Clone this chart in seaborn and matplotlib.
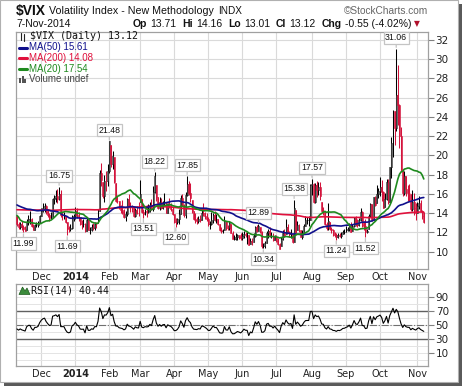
import numpy as np
import pandas as pd
import matplotlib
matplotlib.use("Agg")
import matplotlib.pyplot as plt
import seaborn as sns
from matplotlib.lines import Line2D
from matplotlib.patches import Rectangle, Polygon

# ---- data -------------------------------------------------------------
holidays = ["2013-02-18", "2013-03-29", "2013-05-27", "2013-07-04", "2013-09-02",
            "2013-11-28", "2013-12-25", "2014-01-01", "2014-01-20", "2014-02-17",
            "2014-04-18", "2014-05-26", "2014-07-04", "2014-09-01"]

# closes before the visible window (needed for MA(200), MA(50), MA(20), RSI)
history_close = [
    13.57, 12.95, 13.61, 14.28,
    12.90, 14.67, 13.72, 12.98, 13.41, 12.46, 12.94, 12.64, 12.98, 12.66, 12.46, 12.31, 14.68, 15.22, 14.17, 18.99, 16.87, 14.73, 15.51,
    13.07, 13.19, 13.48, 13.53, 13.06, 12.59, 11.56, 12.27, 11.30, 11.30, 11.30, 13.24, 14.39, 12.67, 13.99, 13.57, 13.74, 12.77, 13.15, 12.70,
    13.58, 12.78, 14.21, 13.89, 12.85, 13.19, 12.84, 12.36, 11.90, 12.06, 17.27, 13.96, 16.51, 17.56, 14.97, 14.39, 13.48, 13.61, 13.62, 13.61, 13.71, 13.52,
    14.49, 13.59, 12.85, 12.66, 12.73, 12.43, 12.59, 12.59, 12.55, 12.77, 12.31, 12.80, 12.45, 13.02, 13.37, 13.82, 14.07, 13.25, 14.48, 14.83, 14.53, 16.30,
    16.27, 16.74, 17.50, 16.14, 15.14, 15.44, 17.07, 18.59, 16.41, 17.15, 16.80, 16.61, 16.64, 20.49, 18.90, 20.11, 18.47, 17.21, 16.86, 16.86,
    16.60, 16.44, 16.20, 14.89, 14.78, 14.35, 14.21, 14.01, 13.84, 13.79, 14.42, 13.78, 13.77, 12.54, 12.29, 12.69, 13.72, 13.22, 12.72, 13.39, 13.39, 13.45,
    12.94, 11.98, 11.84, 12.72, 12.98, 12.73, 13.41, 13.28, 12.81, 12.31, 14.73, 14.37, 15.10, 14.99, 15.92, 14.76, 13.98, 14.99, 16.77, 16.81, 16.81, 17.01,
    16.61, 15.88, 15.58, 15.85, 15.63, 14.53, 13.82, 14.29, 14.16, 14.38, 14.53, 13.59, 13.16, 13.12, 13.26, 13.59, 14.08, 14.01, 15.46, 16.60,
    15.54, 16.60, 17.67, 16.74, 19.41, 20.34, 19.60, 16.48, 15.72, 16.07, 18.66, 14.71, 14.00, 13.04, 13.16, 13.33, 13.98, 13.20, 13.09, 13.31, 13.41, 13.33, 13.75,
    13.09, 12.53, 13.25, 12.67, 13.65,
]

# visible window: 8-Nov-2013 .. 7-Nov-2014
close = [
    12.90, 12.53, 12.82, 12.52, 12.37, 12.19, 13.10, 13.39, 13.40, 12.66, 12.26, 12.79, 12.81, 12.98, 13.70,
    14.23, 14.55, 14.70, 14.15, 13.79, 13.49, 13.52, 15.42, 15.54, 15.76, 15.50, 16.03, 13.80, 13.79, 13.79, 13.04, 12.48, 12.33, 12.46, 13.56, 13.72,
    14.23, 13.76, 13.55, 12.92, 12.87, 12.89, 12.14, 13.28, 12.28, 12.28, 12.53, 12.44, 12.87, 12.84, 13.77, 18.14, 17.42, 15.80, 17.35, 17.29, 18.41,
    21.44, 19.11, 19.95, 17.23, 15.29, 15.26, 14.51, 14.30, 14.14, 13.57, 13.87, 15.50, 14.79, 14.68, 14.23, 13.67, 14.35, 14.04, 14.00,
    16.00, 14.10, 13.89, 14.21, 14.11, 14.20, 14.80, 14.47, 16.22, 17.82, 15.64, 14.52, 15.12, 14.52, 15.00, 15.09, 14.02, 14.93, 14.62, 14.41, 13.88,
    13.10, 13.09, 13.37, 13.96, 15.57, 14.89, 13.82, 15.89, 17.03, 16.11, 15.61, 14.18, 13.36, 13.25, 13.19, 13.42, 13.32, 14.06, 13.97, 13.71, 13.41,
    12.91, 12.91, 13.29, 13.80, 13.40, 13.43, 12.92, 12.23, 12.13, 12.17, 13.17, 12.44, 12.42, 12.96, 11.91, 11.36, 11.36, 11.51, 11.68, 11.57, 11.40,
    11.58, 11.87, 11.68, 11.68, 10.73, 11.15, 10.99, 11.60, 12.56, 12.18, 12.65, 12.06, 10.61, 10.62, 10.85, 11.98, 12.13, 11.59, 11.63, 11.26, 11.57,
    11.15, 10.82, 10.32, 11.33, 11.98, 11.65, 12.59, 12.08, 11.82, 11.96, 11.00, 14.54, 12.06, 12.81, 12.24, 11.52, 11.84, 12.69, 13.28, 13.33, 13.33, 16.95,
    17.03, 15.12, 16.87, 16.37, 16.66, 15.77, 14.23, 14.13, 12.90, 12.42, 13.15, 12.32, 12.21, 11.78, 11.76, 11.47, 11.70, 11.63, 11.78, 12.05, 12.09,
    12.25, 12.36, 12.64, 12.09, 12.66, 13.50, 12.88, 12.80, 13.31, 14.12, 12.73, 12.65, 12.03, 12.11, 13.69, 14.93, 13.27, 15.64, 14.85, 15.98, 16.31,
    16.71, 16.16, 14.55, 15.46, 17.20, 15.11, 18.76, 21.24, 24.64, 22.79, 26.25, 25.20, 21.99, 18.57, 16.08, 17.87, 16.53, 16.11, 16.04, 14.39, 15.15, 14.52, 14.03,
    14.73, 15.10, 14.17, 13.67, 13.12,
]

high = [
    13.70, 13.05, 13.05, 13.20, 12.75, 12.70, 13.40, 13.80, 14.20, 13.45, 12.90, 12.90, 13.10, 13.20, 13.80,
    14.55, 15.05, 15.10, 14.80, 14.40, 14.00, 14.10, 15.60, 15.90, 16.35, 16.50, 16.75, 16.40, 14.25, 14.10, 13.70, 13.10, 12.70, 12.90, 13.80, 13.90,
    14.60, 14.50, 14.10, 13.60, 13.30, 13.40, 13.00, 13.55, 13.40, 12.60, 12.90, 12.95, 13.10, 13.10, 14.45, 18.45, 19.20, 17.20, 18.00, 18.40, 19.10,
    21.48, 21.10, 20.40, 19.80, 17.10, 15.80, 15.30, 14.80, 15.40, 14.40, 14.20, 15.60, 16.00, 15.20, 14.80, 14.60, 14.50, 14.70, 15.20,
    17.40, 15.50, 14.40, 14.40, 14.80, 14.90, 15.20, 15.50, 16.80, 18.22, 16.90, 15.70, 15.70, 15.60, 15.30, 16.10, 15.20, 15.10, 15.60, 15.00, 14.60,
    13.90, 13.50, 13.50, 14.40, 15.90, 16.00, 14.90, 16.20, 17.85, 17.30, 17.10, 15.40, 14.20, 14.00, 13.60, 13.70, 13.80, 14.50, 15.10, 14.10, 14.00,
    13.60, 13.20, 14.10, 14.00, 14.20, 13.90, 13.40, 12.90, 12.60, 12.40, 13.70, 13.20, 12.80, 13.20, 12.90, 12.10, 11.70, 11.90, 11.80, 11.70, 11.90,
    12.00, 12.10, 12.00, 12.00, 11.70, 11.40, 11.40, 11.90, 12.70, 12.80, 12.89, 12.60, 12.10, 10.90, 11.10, 12.10, 12.40, 12.60, 12.00, 11.90, 11.70,
    11.70, 11.40, 10.90, 11.50, 12.30, 12.40, 13.40, 12.90, 12.10, 12.40, 11.80, 15.38, 14.30, 13.20, 12.90, 12.30, 12.20, 12.90, 13.70, 13.60, 13.70, 17.00,
    17.57, 17.10, 17.10, 17.30, 17.20, 17.20, 15.20, 14.60, 14.10, 13.10, 15.00, 13.10, 12.60, 12.40, 12.00, 11.90, 11.90, 11.90, 12.00, 12.30, 12.40,
    12.70, 12.60, 13.00, 13.10, 12.90, 13.60, 13.70, 13.40, 13.50, 14.50, 14.20, 13.20, 13.40, 12.40, 13.90, 15.00, 14.90, 15.70, 15.80, 16.90, 16.60,
    17.70, 17.40, 16.30, 16.10, 17.50, 17.50, 18.80, 21.90, 24.70, 24.60, 31.06, 29.40, 25.30, 22.90, 18.60, 18.40, 17.90, 16.90, 17.00, 16.00, 16.40, 16.10, 15.00,
    15.20, 15.80, 15.40, 14.30, 14.16,
]

low = [
    12.70, 12.40, 12.40, 12.30, 11.99, 12.10, 12.30, 12.80, 12.90, 12.55, 12.20, 12.20, 12.55, 12.55, 13.00,
    13.70, 14.10, 14.10, 13.90, 13.60, 13.20, 13.40, 13.60, 14.90, 15.20, 15.10, 15.40, 13.60, 13.30, 13.40, 12.95, 11.69, 12.00, 12.10, 12.40, 13.20,
    13.40, 13.50, 13.20, 12.80, 12.40, 12.60, 12.00, 12.10, 12.20, 11.80, 12.10, 12.30, 12.30, 12.50, 13.00, 14.20, 16.80, 15.60, 15.20, 16.30, 16.80,
    18.20, 18.80, 18.60, 17.10, 15.20, 15.00, 14.40, 14.00, 13.90, 13.50, 13.20, 13.70, 14.60, 14.10, 14.10, 13.60, 13.60, 13.90, 13.70,
    15.20, 14.00, 13.51, 13.80, 13.60, 14.00, 14.10, 14.30, 14.20, 16.10, 15.30, 14.40, 14.30, 14.40, 14.40, 14.70, 14.00, 14.00, 14.50, 14.20, 13.80,
    13.00, 12.60, 12.90, 12.90, 13.90, 14.70, 13.60, 13.50, 15.80, 15.90, 15.20, 14.00, 13.30, 13.00, 12.90, 13.00, 13.10, 13.30, 13.70, 13.40, 13.20,
    12.70, 12.40, 12.80, 13.00, 13.20, 13.00, 12.80, 12.10, 11.90, 11.90, 12.20, 12.30, 12.20, 12.30, 11.90, 11.30, 11.20, 11.20, 11.20, 11.30, 11.20,
    11.20, 11.40, 11.50, 10.80, 10.70, 10.80, 10.70, 11.00, 11.50, 12.00, 12.10, 11.90, 10.40, 10.34, 10.40, 10.90, 11.40, 11.50, 11.40, 11.10, 11.20,
    11.00, 10.70, 10.28, 10.60, 11.20, 11.50, 11.80, 11.90, 11.50, 11.40, 10.90, 11.00, 11.90, 12.20, 12.00, 11.50, 11.30, 12.00, 12.70, 12.90, 12.70, 13.30,
    15.90, 15.00, 15.00, 15.70, 15.90, 15.40, 14.10, 13.80, 12.80, 12.30, 12.30, 12.20, 11.90, 11.60, 11.50, 11.24, 11.40, 11.50, 11.40, 11.80, 11.80,
    12.00, 12.10, 12.10, 12.00, 12.10, 12.60, 12.70, 12.60, 12.70, 13.20, 12.60, 12.30, 11.52, 11.90, 12.40, 13.60, 13.20, 13.30, 14.70, 15.00, 15.60,
    15.80, 15.30, 14.50, 14.60, 15.40, 14.90, 15.00, 17.60, 19.80, 21.10, 22.50, 23.10, 20.80, 18.40, 15.80, 15.90, 15.80, 15.30, 15.30, 14.20, 14.20, 13.80, 13.30,
    14.00, 14.40, 14.10, 13.40, 13.01,
]

month_starts = ["2013-12-01", "2014-01-01", "2014-02-01", "2014-03-01", "2014-04-01", "2014-05-01",
                "2014-06-01", "2014-07-01", "2014-08-01", "2014-09-01", "2014-10-01", "2014-11-01"]
month_labels = ["Dec", "2014", "Feb", "Mar", "Apr", "May", "Jun", "Jul", "Aug", "Sep", "Oct", "Nov"]

label_dates = ["2013-11-14", "2013-12-17", "2013-12-24", "2014-02-03", "2014-03-05", "2014-03-14",
               "2014-04-02", "2014-04-11", "2014-06-16", "2014-06-19", "2014-07-17", "2014-08-01",
               "2014-08-22", "2014-09-18", "2014-10-15"]
label_values = [11.99, 16.75, 11.69, 21.48, 13.51, 18.22, 12.60, 17.85, 12.89, 10.34, 15.38, 17.57,
                 11.24, 11.52, 31.06]
label_kinds = ["low", "high", "low", "high", "low", "high", "low", "high", "high", "low", "high", "high",
               "low", "low", "high"]

assert len(history_close) == 199
assert len(close) == len(high) == len(low) == 252

# ---- derived series ---------------------------------------------------
all_dates = pd.bdate_range("2013-01-28", "2014-11-07", freq="C", holidays=holidays)
s = pd.Series(history_close + close, index=all_dates)
ma50 = s.rolling(50).mean()
ma200 = s.rolling(200).mean()
ma20 = s.rolling(20).mean()
delta = s.diff()
gain = delta.clip(lower=0).ewm(alpha=1 / 14, adjust=False).mean()
loss = (-delta.clip(upper=0)).ewm(alpha=1 / 14, adjust=False).mean()
rsi = 100 - 100 / (1 + gain / loss)

n = len(close)
dates = all_dates[-n:]
xs = np.arange(n)
c = np.array(close)
hi = np.array(high)
lo = np.array(low)
prev = s.shift(1).values[-n:]
df = pd.DataFrame({"x": xs, "ma50": ma50.values[-n:], "ma200": ma200.values[-n:],
                   "ma20": ma20.values[-n:], "rsi": rsi.values[-n:]})

# ---- figure -----------------------------------------------------------
sns.set_theme(style="white")
plt.rcParams["font.family"] = ["DejaVu Sans"]
W, H = 464, 387
fig = plt.figure(figsize=(W / 100, H / 100), dpi=100)


def fx(px):
    return px / W


def fy(py):
    return 1 - py / H


# panel + drop shadow
fig.patches.append(Rectangle((fx(4), fy(386)), 458 / W, 382 / H, transform=fig.transFigure,
                             facecolor="#5a5a5a", edgecolor="none", zorder=-3))
fig.patches.append(Rectangle((fx(0), fy(382)), 458 / W, 382 / H, transform=fig.transFigure,
                             facecolor="white", edgecolor="#b0b0b0", lw=0.8, zorder=-2))

ax = fig.add_axes([fx(16), fy(269), 412 / W, 237 / H])
rx = fig.add_axes([fx(16), fy(366), 412 / W, 82 / H])

RED = "#d4143c"
NAVY = "#10108c"
MRED = "#e0103c"
GREEN = "#1e8a1e"
GRID = "#dadada"

# candlesticks (body from previous close to close)
down = c < prev
cols = np.where(down, RED, "black")
ax.vlines(xs, lo, hi, colors=cols, lw=0.75, zorder=3)
body_lo = np.clip(np.minimum(prev, c), lo, hi)
body_hi = np.clip(np.maximum(prev, c), lo, hi)
ax.bar(xs, body_hi - body_lo, bottom=body_lo, width=0.6,
       color=np.where(down, RED, "white"), edgecolor=cols, linewidth=0.4, zorder=3)

sns.lineplot(data=df, x="x", y="ma200", ax=ax, color=MRED, lw=1.2, zorder=4)
sns.lineplot(data=df, x="x", y="ma50", ax=ax, color=NAVY, lw=1.2, zorder=4)
sns.lineplot(data=df, x="x", y="ma20", ax=ax, color=GREEN, lw=1.2, zorder=4)
sns.lineplot(data=df, x="x", y="rsi", ax=rx, color="black", lw=0.8, zorder=4)

month_pos = [int(dates.searchsorted(pd.Timestamp(m))) for m in month_starts]

for a in (ax, rx):
    a.set_xlim(-0.6, n + 1.6)
    a.set_xticks(month_pos)
    a.set_xticklabels(month_labels)
    a.tick_params(axis="x", length=0, pad=2.5, labelsize=7, colors="#222222")
    for t in a.get_xticklabels():
        if t.get_text() == "2014":
            t.set_fontweight("bold")
    for m in month_pos:
        a.axvline(m, color=GRID, lw=0.8, zorder=0)
    a.yaxis.tick_right()
    a.tick_params(axis="y", length=4, width=0.8, color="#808080", pad=1.5,
                  labelsize=7.5, labelcolor="#222222", right=True)
    for sp in a.spines.values():
        sp.set_color("#a0a0a0")
        sp.set_linewidth(0.9)
    a.set_xlabel("")
    a.set_ylabel("")

ax.set_ylim(8.2, 32.8)
ax.set_yticks(np.arange(10, 33, 2))
for v in np.arange(10, 33, 2):
    ax.axhline(v, color=GRID, lw=0.8, zorder=0)

rx.set_ylim(-9, 108.5)
rx.set_yticks([10, 30, 50, 70, 90])
for v in range(0, 101, 10):
    rx.axhline(v, color="#e4e4e4", lw=0.7, zorder=0)
rx.axhline(70, color="#606060", lw=1.0, zorder=2)
rx.axhline(30, color="#606060", lw=1.0, zorder=2)
rx.axhline(50, color="#707070", lw=0.8, ls="-.", zorder=2)

# value labels on swing highs/lows
ax_top_px = fig.bbox.height * (fy(32))
for d, v, k in zip(label_dates, label_values, label_kinds):
    xi = int(dates.searchsorted(pd.Timestamp(d)))
    px_y = ax.transData.transform((xi, v))[1]
    if k == "high":
        off = min(11, ax_top_px - 6 - px_y)
    else:
        off = -11
    ax.annotate(f"{v:.2f}", xy=(xi, v), xytext=(0, off), textcoords="offset pixels",
                ha="center", va="center", fontsize=6.3, family="Liberation Sans", color="#111111",
                bbox=dict(boxstyle="square,pad=0.18", fc="white", ec="#c4c4c4", lw=0.9),
                arrowprops=dict(arrowstyle="-", color="#c4c4c4", lw=0.9, shrinkA=0, shrinkB=1),
                zorder=6, annotation_clip=False)

# ---- header text ------------------------------------------------------
fig.text(fx(16), fy(11.5), "$VIX", fontsize=10, fontweight="bold", family="Liberation Sans",
         va="center", color="#111111")
fig.text(fx(49), fy(11.5), "Volatility Index - New Methodology", fontsize=7.7,
         family="Liberation Sans", va="center", color="#111111")
fig.text(fx(218), fy(11.5), "INDX", fontsize=7.2, family="Liberation Sans", va="center",
         color="#111111")
fig.text(fx(428), fy(11), "\u00a9StockCharts.com", fontsize=7.3, family="Liberation Sans",
         va="center", ha="right", color="#666666")
fig.text(fx(16), fy(24), "7-Nov-2014", fontsize=7.5, family="Liberation Sans", va="center",
         color="#111111")

renderer = fig.canvas.get_renderer()
hx = 133
parts = [("Op", "bold"), ("13.71", "normal"), ("Hi", "bold"), ("14.16", "normal"),
         ("Lo", "bold"), ("13.01", "normal"), ("Cl", "bold"), ("13.12", "normal"),
         ("Chg", "bold"), ("-0.55 (-4.02%)", "normal")]
for txt, wt in parts:
    t = fig.text(fx(hx), fy(24), txt, fontsize=7.5, fontweight=wt, family="Liberation Sans",
                 va="center", color="#111111")
    hx += t.get_window_extent(renderer=renderer).width + (3 if wt == "bold" else 6)
fig.text(fx(hx - 3), fy(24), "\u25bc", fontsize=5.5, color="#b0102c", va="center")

# ---- in-panel legends -------------------------------------------------
fig.add_artist(Line2D([fx(21), fx(21)], [fy(32.5), fy(40)], color="#222222", lw=0.8))
fig.add_artist(Line2D([fx(24.5), fx(24.5)], [fy(34), fy(41)], color="#222222", lw=0.8))
fig.text(fx(30), fy(36), "$VIX (Daily) 13.12", fontsize=7.2, family="DejaVu Sans Mono",
         va="center", color="#111111")
leg = [("MA(50) 15.61", NAVY, 47.5), ("MA(200) 14.08", MRED, 58.3), ("MA(20) 17.54", GREEN, 69)]
for txt, col, yy in leg:
    fig.add_artist(Line2D([fx(19.5), fx(27)], [fy(yy), fy(yy)], color=col, lw=2.2))
    fig.text(fx(29), fy(yy), txt, fontsize=7, family="Liberation Sans", va="center", color=col)
for bx, bh in [(19.5, 5), (22, 7), (24.5, 4)]:
    fig.patches.append(Rectangle((fx(bx), fy(83)), 2 / W, bh / H, transform=fig.transFigure,
                                 facecolor="#555555", edgecolor="none"))
fig.text(fx(29), fy(79.5), "Volume undef", fontsize=7, family="Liberation Sans", va="center",
         color="#444444")

fig.patches.append(Polygon([(fx(19), fy(294.5)), (fx(22.5), fy(287)), (fx(25), fy(291)),
                            (fx(27), fy(288)), (fx(30), fy(294.5))], closed=True,
                           transform=fig.transFigure, facecolor="#3c8c3c", edgecolor="#1e5a1e", lw=0.5))
fig.text(fx(31), fy(290.5), "RSI(14) 40.44", fontsize=7.2, family="DejaVu Sans Mono",
         va="center", color="#111111")

fig.savefig("out.png", dpi=100, facecolor="white")
